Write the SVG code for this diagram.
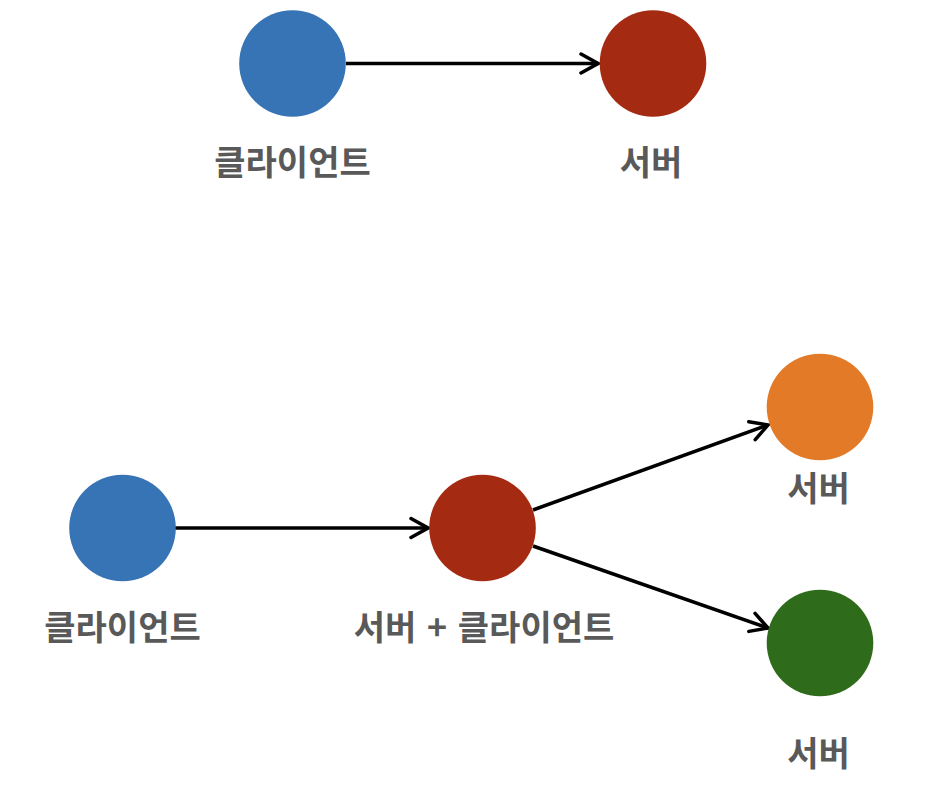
<svg xmlns="http://www.w3.org/2000/svg" width="932" height="800" viewBox="0 0 932 800">
<style>
.lbl{font-family:"Noto Sans CJK KR","Noto Sans",sans-serif;font-weight:bold;font-size:34px;fill:#595959;text-anchor:middle}
.edge{stroke:#000;stroke-width:3.5;fill:none;marker-end:url(#arr)}
</style>
<defs>
<marker id="arr" markerUnits="userSpaceOnUse" viewBox="-22 -12 24 24" refX="0" refY="0" markerWidth="24" markerHeight="24" orient="auto">
<path d="M-17,-9.5 L0,0 L-17,9.5" fill="none" stroke="#000" stroke-width="3.5" stroke-linecap="round"/>
</marker>
</defs>
<rect width="932" height="800" fill="#fff"/>
<g id="connectors">
<line class="edge" x1="346" y1="63.5" x2="598" y2="63.5"/>
<line class="edge" x1="175" y1="528" x2="428" y2="528"/>
<line class="edge" x1="533" y1="510" x2="768" y2="425"/>
<line class="edge" x1="533" y1="546" x2="768" y2="628"/>
</g>
<g id="client1">
<circle cx="292.5" cy="63.5" r="53.3" fill="#3674B5"/>
<text class="lbl" x="292.5" y="175">클라이언트</text>
</g>
<g id="server1">
<circle cx="653" cy="63.5" r="53.3" fill="#A52A12"/>
<text class="lbl" x="651" y="175">서버</text>
</g>
<g id="client2">
<circle cx="122.5" cy="528" r="53.3" fill="#3674B5"/>
<text class="lbl" x="122.5" y="640">클라이언트</text>
</g>
<g id="serverclient">
<circle cx="482.5" cy="528" r="53.3" fill="#A52A12"/>
<text class="lbl" x="484" y="640" word-spacing="3">서버 + 클라이언트</text>
</g>
<g id="server2">
<circle cx="820" cy="407" r="53.3" fill="#E27A28"/>
<text class="lbl" x="818.5" y="501">서버</text>
</g>
<g id="server3">
<circle cx="820" cy="643" r="53.3" fill="#2E6B1A"/>
<text class="lbl" x="818.5" y="766">서버</text>
</g>
</svg>
